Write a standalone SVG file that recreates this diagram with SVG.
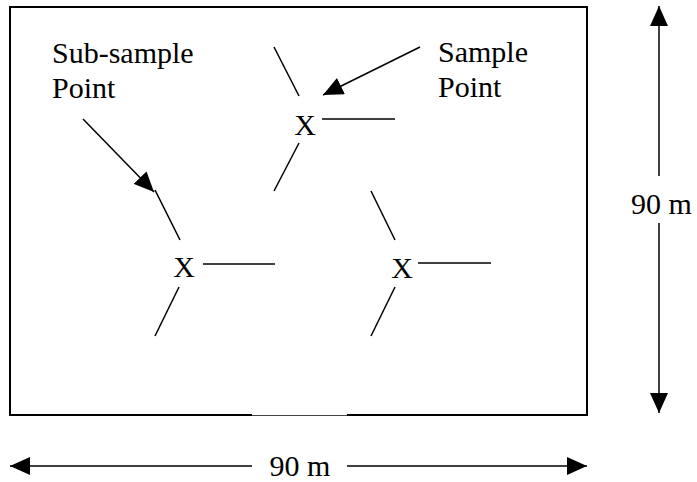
<svg xmlns="http://www.w3.org/2000/svg" width="697" height="482" viewBox="0 0 697 482">
<style>
text{font-family:'Liberation Serif','Times New Roman','DejaVu Serif',serif;font-size:30px;fill:#000}
.ln{stroke:#000;stroke-width:1.5;fill:none}
.dim{stroke:#000;stroke-width:1.5;fill:none}
</style>
<defs>
<marker id="ah" markerUnits="userSpaceOnUse" markerWidth="20" markerHeight="18" viewBox="0 0 20 18" refX="20" refY="9" orient="auto-start-reverse">
<path d="M0,0 L20,9 L0,18 z" fill="#000"/>
</marker>
</defs>
<rect width="697" height="482" fill="#fff"/>
<g id="plot">
<path d="M252,415 L10,415 L10,7 L587,7 L587,415 L347,415" fill="none" stroke="#000" stroke-width="2"/>
<line x1="252" y1="415.5" x2="347" y2="415.5" stroke="#444" stroke-width="1"/>
</g>
<g font-family="Liberation Serif, Times New Roman, DejaVu Serif, serif" font-size="30">
<g id="label-subsample">
<text x="52" y="63">Sub-sample</text>
<text x="52" y="98">Point</text>
</g>
<g id="label-sample">
<text x="438" y="62">Sample</text>
<text x="438" y="97">Point</text>
</g>
<g id="point-top">
<text x="305" y="135" text-anchor="middle">X</text>
</g>
<g id="point-left">
<text x="184" y="277" text-anchor="middle">X</text>
</g>
<g id="point-right">
<text x="402" y="278" text-anchor="middle">X</text>
</g>
<g id="dim-vertical">
<text x="631" y="214">90 m</text>
</g>
<g id="dim-horizontal">
<text x="300" y="476" text-anchor="middle">90 m</text>
</g>
</g>
<g id="connectors">
<line class="ln" x1="274" y1="47" x2="299" y2="96"/>
<line class="ln" x1="299" y1="143" x2="274" y2="191"/>
<line class="ln" x1="322" y1="119" x2="395" y2="119"/>
<line class="ln" x1="155" y1="190" x2="180" y2="240"/>
<line class="ln" x1="179" y1="287" x2="155" y2="336"/>
<line class="ln" x1="203" y1="264" x2="275" y2="264"/>
<line class="ln" x1="371" y1="191" x2="395" y2="240"/>
<line class="ln" x1="395" y1="287" x2="371" y2="336"/>
<line class="ln" x1="418" y1="263" x2="491" y2="263"/>
<line class="ln" x1="83" y1="119" x2="154" y2="192" marker-end="url(#ah)"/>
<line class="ln" x1="420" y1="47" x2="323" y2="95" marker-end="url(#ah)"/>
<line class="dim" x1="659" y1="176" x2="659" y2="6" marker-end="url(#ah)"/>
<line class="dim" x1="659" y1="223" x2="659" y2="413" marker-end="url(#ah)"/>
<line class="dim" x1="252" y1="466" x2="10" y2="466" marker-end="url(#ah)"/>
<line class="dim" x1="347" y1="466" x2="587" y2="466" marker-end="url(#ah)"/>
</g>
</svg>
